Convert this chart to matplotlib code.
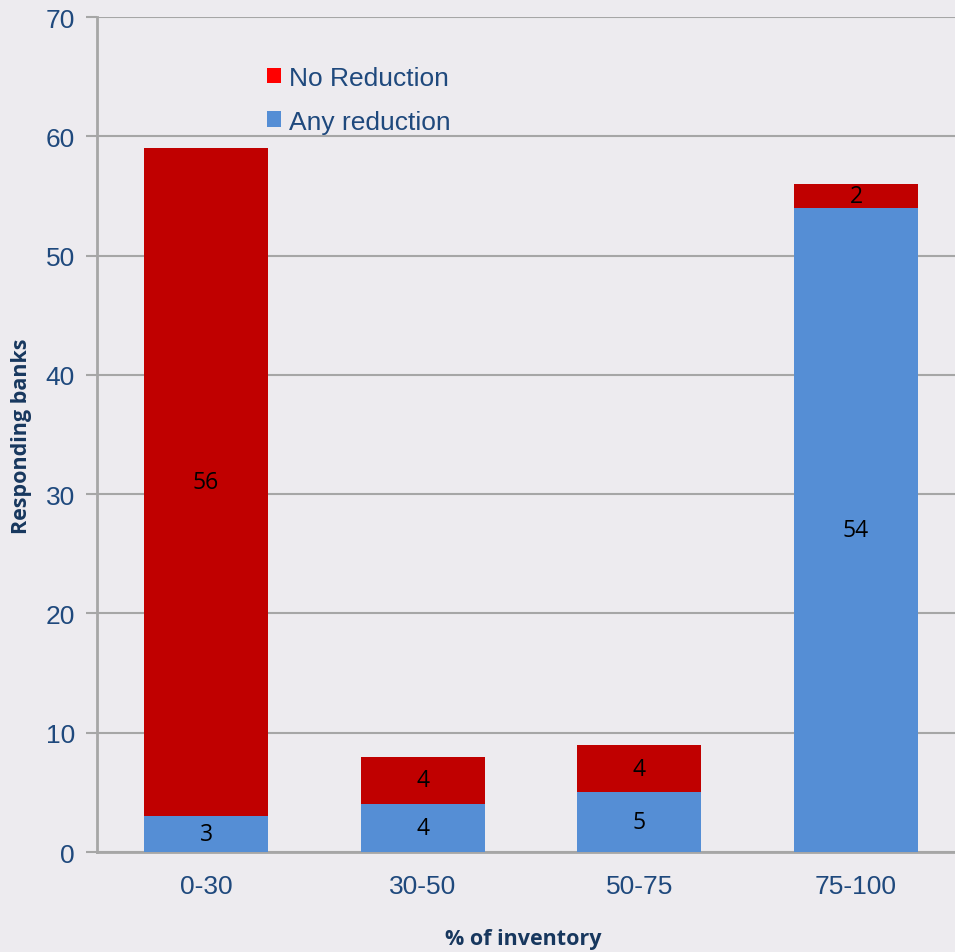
import matplotlib
matplotlib.use("Agg")
import matplotlib.pyplot as plt
from matplotlib.patches import Patch

categories = ["0-30", "30-50", "50-75", "75-100"]
any_reduction = [3, 4, 5, 54]
no_reduction = [56, 4, 4, 2]
y_ticks = [0, 10, 20, 30, 40, 50, 60, 70]

bg = "#EDEBEF"
red = "#C00000"
blue = "#558ED5"
tick_color = "#1F497D"
label_color = "#17375E"
grid_color = "#A6A6A6"

fig = plt.figure(figsize=(9.55, 9.53), dpi=100, facecolor=bg)
ax = fig.add_axes([0.1016, 0.1049, 0.8984, 0.8762])
ax.set_facecolor(bg)

x = list(range(len(categories)))
w = 0.572
b1 = ax.bar(x, any_reduction, width=w, color=blue, zorder=3, label="Any reduction")
b2 = ax.bar(x, no_reduction, width=w, bottom=any_reduction, color=red, zorder=3, label="No Reduction")

for rect, v in zip(b1, any_reduction):
    ax.text(rect.get_x() + rect.get_width() / 2, rect.get_y() + rect.get_height() / 2, str(v),
            ha="center", va="center", fontsize=16.5, color="black", family="Open Sans", zorder=4)
for rect, v in zip(b2, no_reduction):
    ax.text(rect.get_x() + rect.get_width() / 2, rect.get_y() + rect.get_height() / 2, str(v),
            ha="center", va="center", fontsize=16.5, color="black", family="Open Sans", zorder=4)

ax.set_xlim(-0.503, 3.457)
ax.set_ylim(0, 70)
ax.set_yticks(y_ticks)
ax.set_xticks(x)
ax.set_xticklabels(categories)
ax.yaxis.grid(True, color=grid_color, linewidth=1.5, zorder=0)
ax.set_axisbelow(True)

for s in ["top", "right"]:
    ax.spines[s].set_visible(False)
for s in ["left", "bottom"]:
    ax.spines[s].set_color(grid_color)
    ax.spines[s].set_linewidth(2)

ax.tick_params(axis="y", length=8, width=1.5, color=grid_color, labelsize=19,
               labelcolor=tick_color, pad=8)
ax.tick_params(axis="x", length=0, labelsize=19, labelcolor=tick_color, pad=16)
for lab in ax.get_xticklabels() + ax.get_yticklabels():
    lab.set_family("Liberation Sans")

fig.text(22 / 955, 1 - 436 / 953, "Responding banks", rotation=90, ha="center", va="center",
         fontsize=15.5, fontweight="bold", color=label_color, family="Open Sans")
fig.text(523 / 955, 1 - 940 / 953, "% of inventory", ha="center", va="center",
         fontsize=15.5, fontweight="bold", color=label_color, family="Open Sans")

handles = [Patch(facecolor="#FF0000", label="No Reduction"),
           Patch(facecolor=blue, label="Any reduction")]
leg = ax.legend(handles=handles, loc="upper left", bbox_to_anchor=(0.17, 0.97),
                frameon=False, handlelength=0.55, handleheight=0.55,
                handletextpad=0.3, labelspacing=0.75,
                prop={"family": "Liberation Sans", "size": 19})
for t in leg.get_texts():
    t.set_color(tick_color)

fig.savefig("out.png", dpi=100, facecolor=bg)
